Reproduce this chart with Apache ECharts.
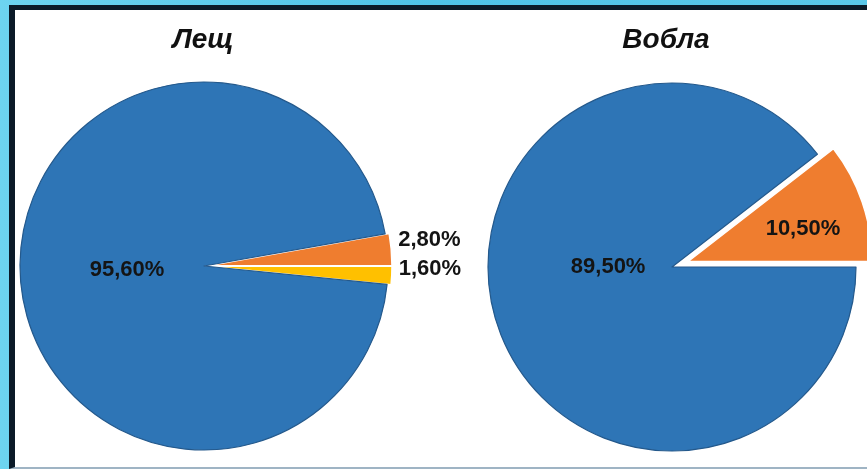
<!DOCTYPE html>
<html>
<head>
<meta charset="utf-8">
<script src="https://cdn.jsdelivr.net/npm/echarts@6/dist/echarts.min.js"></script>
<style>
  html, body { margin: 0; padding: 0; width: 867px; height: 469px; overflow: hidden; }
  body { background: linear-gradient(90deg, #6dd4f0 0%, #4fc3e8 50%, #5ac8ea 100%); position: relative; }
  #frame { position: absolute; left: 9px; top: 5px; width: 870px; height: 457px;
           border-left: 6px solid #0b1a28; border-top: 5px solid #0b1a28;
           border-bottom: 2px solid #9fb4c4; background: #ffffff; }
  #chart { position: absolute; left: 0; top: 0; width: 867px; height: 469px; }
</style>
</head>
<body>
<div id="frame"></div>
<div id="chart"></div>
<script>
// Data
const titles = ['Лещ', 'Вобла'];
const leschNames = ['Прочие 1', 'Прочие 2', 'Основная'];
const leschValues = [2.8, 1.6, 95.6];
const leschLabels = ['2,80%', '1,60%', '95,60%'];
const voblaNames = ['Прочие', 'Основная'];
const voblaValues = [10.5, 89.5];
const voblaLabels = ['10,50%', '89,50%'];

const BLUE = '#2e75b6', ORANGE = '#ef7d2f', YELLOW = '#ffc000';
const labelFont = { fontFamily: 'Liberation Sans, Arial, sans-serif', fontWeight: 'bold', fontSize: 22, color: '#141414' };

// label nudges (pixels) per slice
const leschNudge = [[2, -10], [2, -7], [18, 0]];
const voblaNudge = [[25, -2], [26, -31]];

const chart = echarts.init(document.getElementById('chart'), null, { renderer: 'canvas' });

const leschData = leschValues.map((v, i) => {
  const item = { name: leschNames[i], value: v };
  if (i === 0) {
    item.selected = true;
    item.itemStyle = { color: ORANGE, borderColor: '#ffffff', borderWidth: 1.5 };
    item.label = Object.assign({ show: true, position: 'outside', formatter: leschLabels[i] }, labelFont);
  } else if (i === 1) {
    item.selected = true;
    item.itemStyle = { color: YELLOW, borderColor: '#ffffff', borderWidth: 1.5 };
    item.label = Object.assign({ show: true, position: 'outside', formatter: leschLabels[i] }, labelFont);
  } else {
    item.itemStyle = { color: BLUE, borderColor: '#24598c', borderWidth: 1.2 };
    item.label = Object.assign({ show: true, position: 'inside', formatter: leschLabels[i] }, labelFont);
  }
  return item;
});

const voblaData = voblaValues.map((v, i) => {
  const item = { name: voblaNames[i], value: v };
  if (i === 0) {
    item.selected = true;
    item.itemStyle = { color: ORANGE, borderColor: '#ffffff', borderWidth: 1.5 };
  } else {
    item.itemStyle = { color: BLUE, borderColor: '#24598c', borderWidth: 1.2 };
  }
  item.label = Object.assign({ show: true, position: 'inside', formatter: voblaLabels[i] }, labelFont);
  return item;
});

const titleStyle = { fontFamily: 'Liberation Sans, Arial, sans-serif', fontWeight: 'bold', fontStyle: 'italic', fontSize: 28, color: '#111111' };

chart.setOption({
  animation: false,
  title: [
    { text: titles[0], left: 198, top: 21, textAlign: 'center', textStyle: titleStyle },
    { text: titles[1], left: 661, top: 21, textAlign: 'center', textStyle: titleStyle }
  ],
  series: [
    {
      type: 'pie',
      center: [204, 266],
      radius: [0, 184],
      startAngle: 10.08,
      clockwise: true,
      selectedMode: 'multiple',
      selectedOffset: 4,
      avoidLabelOverlap: false,
      labelLine: { show: false, length: 0, length2: 0 },
      labelLayout: function (p) { const n = leschNudge[p.dataIndex]; return { dx: n[0], dy: n[1] }; },
      emphasis: { disabled: true },
      data: leschData
    },
    {
      type: 'pie',
      center: [672, 267],
      radius: [0, 184],
      startAngle: 37.8,
      clockwise: true,
      selectedMode: 'multiple',
      selectedOffset: 17,
      avoidLabelOverlap: false,
      labelLine: { show: false },
      labelLayout: function (p) { const n = voblaNudge[p.dataIndex]; return { dx: n[0], dy: n[1] }; },
      emphasis: { disabled: true },
      data: voblaData
    }
  ]
});
</script>
</body>
</html>
